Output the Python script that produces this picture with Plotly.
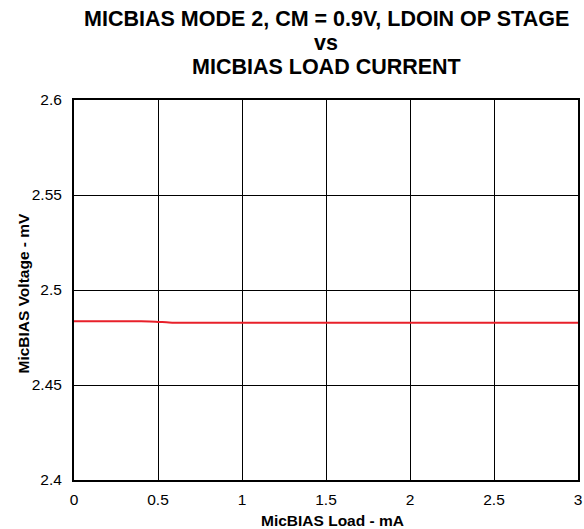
import plotly.graph_objects as go

load_ma = [0, 0.1, 0.2, 0.3, 0.4, 0.45, 0.5, 0.55, 0.6, 0.7, 0.8, 1.0, 1.5, 2.0, 2.5, 3.0]
voltage_v = [2.4835, 2.4835, 2.4835, 2.4835, 2.4835, 2.4834, 2.4832, 2.4830, 2.4828, 2.4828,
             2.4828, 2.4828, 2.4828, 2.4828, 2.4828, 2.4828]

x_ticks = [0, 0.5, 1, 1.5, 2, 2.5, 3]
x_tick_labels = ["0", "0.5", "1", "1.5", "2", "2.5", "3"]
y_ticks = [2.4, 2.45, 2.5, 2.55, 2.6]
y_tick_labels = ["2.4", "2.45", "2.5", "2.55", "2.6"]
title_lines = ["MICBIAS MODE 2, CM = 0.9V, LDOIN OP STAGE", "vs", "MICBIAS LOAD CURRENT"]
x_title = "MicBIAS Load - mA"
y_title = "MicBIAS Voltage - mV"

font_family = "Liberation Sans, Arial, sans-serif"

fig = go.Figure()
fig.add_trace(go.Scatter(x=load_ma, y=voltage_v, mode="lines",
                         line=dict(color="#e8202a", width=2, shape="spline"),
                         showlegend=False, hoverinfo="skip"))

for i, line in enumerate(title_lines):
    fig.add_annotation(text=f"<b>{line}</b>", xref="paper", yref="paper",
                       x=0.5, y=1, yshift=81 - 24 * i, xanchor="center", yanchor="middle",
                       showarrow=False, font=dict(family=font_family, size=21.5, color="black"))

fig.add_annotation(text=f"<b>{x_title}</b>", xref="paper", yref="paper",
                   x=0.5, y=0, xshift=6, yshift=-40, xanchor="center", yanchor="middle",
                   showarrow=False, font=dict(family=font_family, size=15.5, color="black"))
fig.add_annotation(text=f"<b>{y_title}</b>", xref="paper", yref="paper",
                   x=0, y=0.5, xshift=-51.5, yshift=-3, xanchor="center", yanchor="middle",
                   textangle=-90,
                   showarrow=False, font=dict(family=font_family, size=15.5, color="black"))

fig.update_layout(
    width=584, height=529,
    margin=dict(l=74, r=6, t=100, b=49, autoexpand=False),
    paper_bgcolor="white", plot_bgcolor="white",
    font=dict(family=font_family, color="black", size=15.5),
    xaxis=dict(
        range=[0, 3], tickvals=x_ticks, ticktext=x_tick_labels,
        showgrid=True, gridcolor="black", gridwidth=1,
        showline=True, linecolor="black", linewidth=2, mirror=True,
        ticks="outside", ticklen=4, tickcolor="rgba(0,0,0,0)", zeroline=False, automargin=False,
        tickfont=dict(family=font_family, size=15.5),
    ),
    yaxis=dict(
        range=[2.4, 2.6], tickvals=y_ticks, ticktext=y_tick_labels,
        showgrid=True, gridcolor="black", gridwidth=1,
        showline=True, linecolor="black", linewidth=2, mirror=True,
        ticks="outside", ticklen=7, tickcolor="rgba(0,0,0,0)", zeroline=False, automargin=False,
        tickfont=dict(family=font_family, size=15.5),
    ),
)

fig.write_html("out.html", config={"displayModeBar": False},
               post_script="document.body.style.margin='0';")
